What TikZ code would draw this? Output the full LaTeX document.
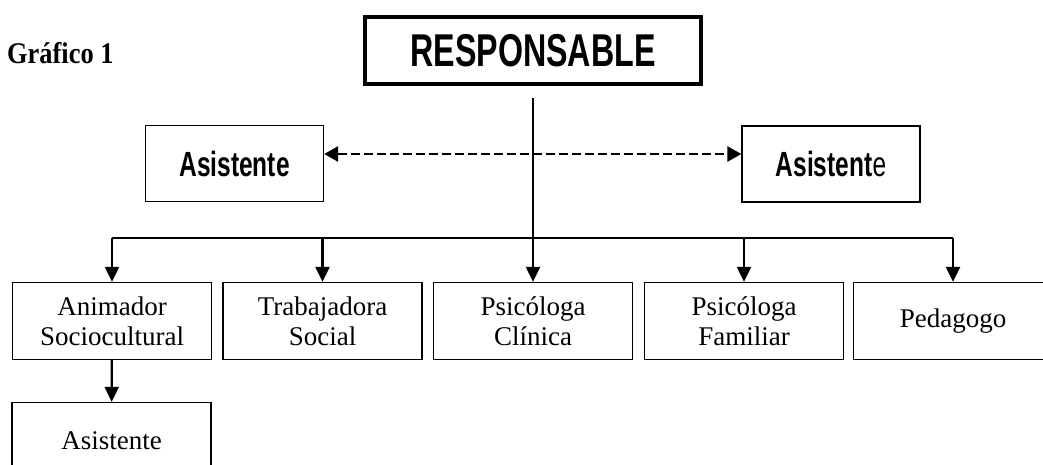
\documentclass[tikz,border=0pt]{standalone}
\usepackage{fontspec}
\setmainfont{Liberation Serif}
\newfontfamily\narrowsans[FakeStretch=0.7]{Liberation Sans}
\newfontfamily\titlefont[FakeStretch=0.88]{Liberation Serif}
\usetikzlibrary{arrows.meta}

\begin{document}
\begin{tikzpicture}
      [
      x=1pt,y=-1pt,
      headbox/.style={draw,line width=4pt,inner sep=0pt,minimum width=336pt,minimum height=67pt,font=\fontsize{46}{50}\selectfont\narrowsans\bfseries},
      asisbox/.style={draw,line width=1.3pt,inner sep=0pt,minimum width=178pt,minimum height=76pt,font=\fontsize{35}{40}\selectfont\narrowsans\bfseries},
      unitbox/.style={draw,line width=1.3pt,inner sep=0pt,minimum width=199pt,minimum height=77pt,align=center,font=\fontsize{27}{30}\selectfont},
      downarrow/.style={-{Triangle[width=14pt,length=15pt]},line width=2.2pt},
      linkarrow/.style={{Triangle[width=15pt,length=14pt]}-{Triangle[width=15pt,length=14pt]},line width=2.6pt,dash pattern=on 9pt off 4pt}
      ]
      \useasboundingbox (0,0) rectangle (1043,464);
      \node (titulo) at (7,63) [anchor=base west,inner sep=0pt,font=\fontsize{30}{32}\selectfont\titlefont\bfseries] {Gráfico 1};
      \node (resp) at (533,50.5) [headbox] {RESPONSABLE};
      \node (asisL) at (234.5,163.5) [asisbox] {Asistente};
      \node (asisR) at (831,164) [asisbox] {Asistent{\mdseries e}};
      \node (anim) at (112,321) [unitbox] {Animador\\Sociocultural};
      \node (trab) at (322.5,321) [unitbox] {Trabajadora\\Social};
      \node (clin) at (533,321) [unitbox] {Psicóloga\\Clínica};
      \node (fam) at (744,321) [unitbox] {Psicóloga\\Familiar};
      \node (ped) at (953,321) [unitbox] {Pedagogo};
      \node (asisB) at (111.5,441) [unitbox] {Asistente};
      \coordinate (drop) at ([yshift=-12pt]resp.south);
      \coordinate (bus) at (0,238);
      \draw [line width=1.3pt] (drop) -- (clin.north |- bus);
      \draw [line width=1.5pt] (anim.north |- bus) -- (ped.north |- bus);
      \draw [linkarrow] ([yshift=9.5pt]asisL.east) -- ([yshift=10pt]asisR.west);
      \draw [downarrow] (anim.north |- bus) -- (anim.north);
      \draw [downarrow] (trab.north |- bus) -- (trab.north);
      \draw [downarrow] (clin.north |- bus) -- (clin.north);
      \draw [downarrow] (fam.north |- bus) -- (fam.north);
      \draw [downarrow] (ped.north |- bus) -- (ped.north);
      \draw [downarrow] (anim) -- (asisB);
    \end{tikzpicture}
\end{document}
